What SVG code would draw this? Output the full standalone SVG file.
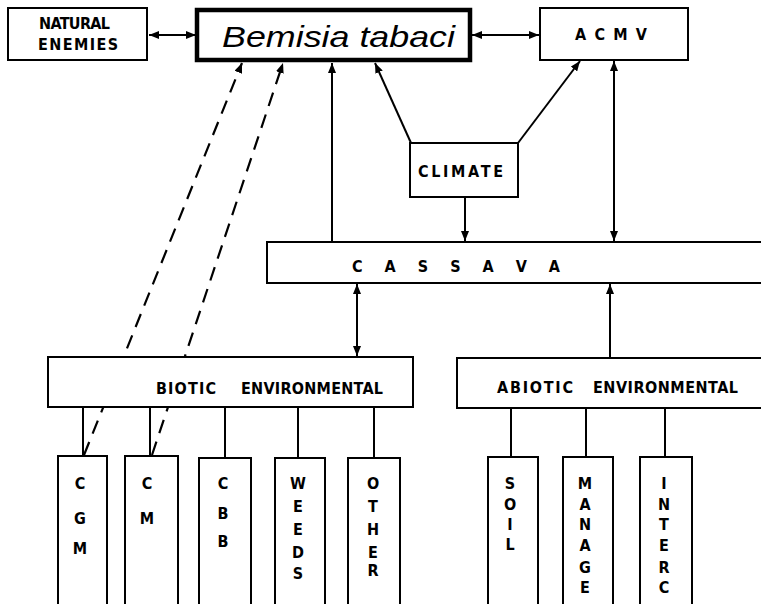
<svg xmlns="http://www.w3.org/2000/svg" width="761" height="604" viewBox="0 0 761 604">
<style>
.box{fill:#fff;stroke:#000;stroke-width:2}
.thick{fill:#fff;stroke:#000;stroke-width:4.5}
.ln{stroke:#000;stroke-width:2;fill:none}
.dash{stroke:#000;stroke-width:2.2;fill:none;stroke-dasharray:14 9}
.t{font-family:"DejaVu Sans Condensed","Liberation Sans",Arial,sans-serif;font-weight:bold;font-size:16px;fill:#000}
.c{font-family:"DejaVu Sans Condensed","Liberation Sans",Arial,sans-serif;font-weight:bold;font-size:16px;fill:#000;text-anchor:middle}
.bt{font-family:"Liberation Sans",Arial,sans-serif;font-style:italic;font-size:30px;fill:#000}
</style>
<defs>
<marker id="ah" viewBox="0 0 10 8" refX="10" refY="4" markerWidth="10" markerHeight="8" markerUnits="userSpaceOnUse" orient="auto-start-reverse">
<path d="M0,0 L10,4 L0,8 z" fill="#000"/>
</marker>
</defs>
<g id="connectors">
<line class="ln" x1="149" y1="35" x2="196" y2="35" marker-start="url(#ah)" marker-end="url(#ah)"/>
<line class="ln" x1="472" y1="35" x2="539" y2="35" marker-start="url(#ah)" marker-end="url(#ah)"/>
<line class="dash" x1="84" y1="455" x2="242" y2="63" marker-end="url(#ah)"/>
<line class="dash" x1="152" y1="455" x2="283" y2="63" marker-end="url(#ah)"/>
<line class="ln" x1="332" y1="242" x2="332" y2="63" marker-end="url(#ah)"/>
<line class="ln" x1="411" y1="143" x2="375" y2="63" marker-end="url(#ah)"/>
<line class="ln" x1="518" y1="143" x2="580" y2="61" marker-end="url(#ah)"/>
<line class="ln" x1="614" y1="61" x2="614" y2="241" marker-start="url(#ah)" marker-end="url(#ah)"/>
<line class="ln" x1="465" y1="197" x2="465" y2="241" marker-end="url(#ah)"/>
<line class="ln" x1="357" y1="284" x2="357" y2="356" marker-start="url(#ah)" marker-end="url(#ah)"/>
<line class="ln" x1="610" y1="357" x2="610" y2="284" marker-end="url(#ah)"/>
<path class="ln" d="M83,407V456 M150,407V456 M225,407V458 M298,407V458 M374,407V458 M511,408V457 M586,408V457 M665,408V457"/>
</g>
<g id="natural-enemies">
<rect class="box" x="8" y="8" width="139" height="52"/>
<text class="t" x="39" y="29" textLength="71" lengthAdjust="spacing">NATURAL</text>
<text class="t" x="38" y="50" textLength="80" lengthAdjust="spacing">ENEMIES</text>
</g>
<g id="bemisia">
<rect class="thick" x="197" y="10" width="273" height="50"/>
<text class="bt" x="222" y="47" textLength="233" lengthAdjust="spacingAndGlyphs">Bemisia tabaci</text>
</g>
<g id="acmv">
<rect class="box" x="540" y="8" width="148" height="52"/>
<text class="t" x="575" y="40" textLength="72" lengthAdjust="spacing">A C M V</text>
</g>
<g id="climate">
<rect class="box" x="410" y="143" width="108" height="54"/>
<text class="t" x="418" y="177" textLength="85" lengthAdjust="spacing">CLIMATE</text>
</g>
<g id="cassava">
<rect class="box" x="267" y="242" width="500" height="41"/>
<text class="t" x="352" y="272" textLength="208" lengthAdjust="spacing">C A S S A V A</text>
</g>
<g id="biotic">
<rect class="box" x="48" y="357" width="365" height="50"/>
<text class="t" x="156" y="394" textLength="60" lengthAdjust="spacing">BIOTIC</text>
<text class="t" x="241" y="394" textLength="142" lengthAdjust="spacing">ENVIRONMENTAL</text>
</g>
<g id="abiotic">
<rect class="box" x="457" y="358" width="310" height="50"/>
<text class="t" x="497" y="393" textLength="76" lengthAdjust="spacing">ABIOTIC</text>
<text class="t" x="593" y="393" textLength="145" lengthAdjust="spacing">ENVIRONMENTAL</text>
</g>
<g id="cgm">
<rect class="box" x="58" y="456" width="49" height="160"/>
<text class="c" x="80" y="489">C</text><text class="c" x="80" y="524">G</text><text class="c" x="80" y="554">M</text>
</g>
<g id="cm">
<rect class="box" x="125" y="456" width="53" height="160"/>
<text class="c" x="147" y="489">C</text><text class="c" x="147" y="524">M</text>
</g>
<g id="cbb">
<rect class="box" x="199" y="458" width="52" height="160"/>
<text class="c" x="223" y="489">C</text><text class="c" x="223" y="519">B</text><text class="c" x="223" y="547">B</text>
</g>
<g id="weeds">
<rect class="box" x="275" y="458" width="50" height="160"/>
<text class="c" x="298" y="489">W</text><text class="c" x="298" y="512">E</text><text class="c" x="298" y="535">E</text><text class="c" x="298" y="558">D</text><text class="c" x="298" y="579">S</text>
</g>
<g id="other">
<rect class="box" x="348" y="458" width="52" height="160"/>
<text class="c" x="373" y="489">O</text><text class="c" x="373" y="512">T</text><text class="c" x="373" y="535">H</text><text class="c" x="373" y="558">E</text><text class="c" x="373" y="576">R</text>
</g>
<g id="soil">
<rect class="box" x="488" y="457" width="50" height="160"/>
<text class="c" x="510" y="489">S</text><text class="c" x="510" y="510">O</text><text class="c" x="510" y="530">I</text><text class="c" x="510" y="550">L</text>
</g>
<g id="manage">
<rect class="box" x="563" y="457" width="50" height="160"/>
<text class="c" x="585" y="489">M</text><text class="c" x="585" y="510">A</text><text class="c" x="585" y="530">N</text><text class="c" x="585" y="551">A</text><text class="c" x="585" y="573">G</text><text class="c" x="585" y="593">E</text>
</g>
<g id="interc">
<rect class="box" x="640" y="457" width="52" height="160"/>
<text class="c" x="664" y="489">I</text><text class="c" x="664" y="510">N</text><text class="c" x="664" y="530">T</text><text class="c" x="664" y="551">E</text><text class="c" x="664" y="573">R</text><text class="c" x="664" y="593">C</text>
</g>
</svg>
